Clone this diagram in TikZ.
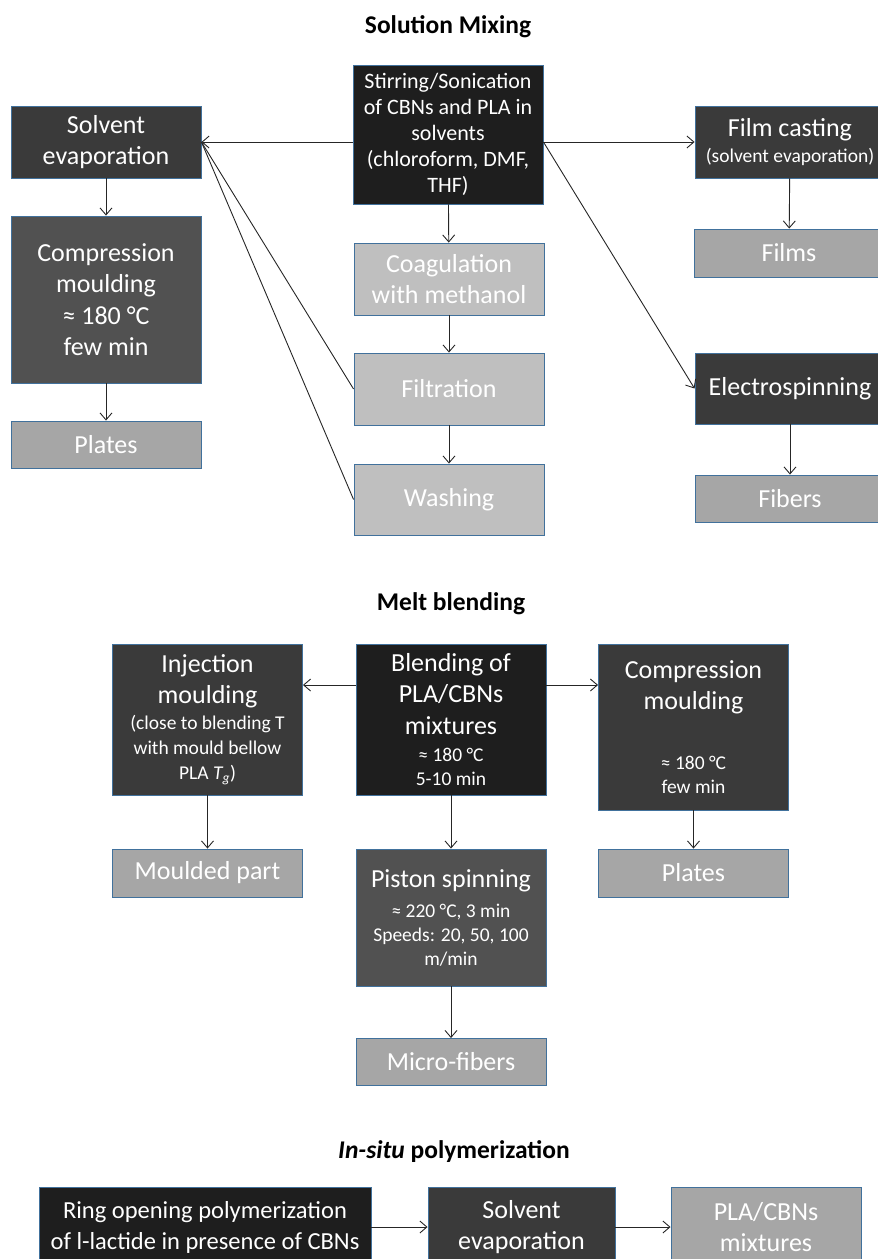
\documentclass[tikz,border=0pt]{standalone}
\usepackage{fontspec}
\setmainfont{Carlito}
\usepackage{tikz}
\usetikzlibrary{arrows.meta}

\definecolor{boxblack}{HTML}{1E1E1E}
\definecolor{boxdark}{HTML}{3A3A3A}
\definecolor{boxmid}{HTML}{515151}
\definecolor{boxgray}{HTML}{A6A6A6}
\definecolor{boxlight}{HTML}{BFBFBF}
\definecolor{boxedge}{HTML}{41719C}
\newcommand{\subtxt}{\fontsize{19.5}{23.5}\selectfont}

\begin{document}
\begin{tikzpicture}[x=1pt,y=-1pt,>={Straight Barb[length=7pt,width=12pt]},
  procbox/.style={rectangle,draw=boxedge,line width=0.9pt,text=white,inner sep=0pt,align=center,
    font=\fontsize{26}{31.5}\selectfont,minimum width=190pt},
  sectitle/.style={font=\fontsize{25.5}{30}\selectfont\bfseries,anchor=base},
  flow/.style={->,draw=black!85,line width=0.9pt}]
\useasboundingbox (0,0) rectangle (878,1259);

% Solution mixing
\node[sectitle] (titlemix) at (448,33) {Solution Mixing};
\node[procbox,fill=boxblack,minimum height=139pt,font=\fontsize{22}{26}\selectfont] (stir) at (448,134.5) {Stirring/Sonication\\of CBNs and PLA in\\solvents\\(chloroform, DMF,\\THF)};
\node[procbox,fill=boxdark,minimum height=72pt] (solv) at (106,142) {Solvent\\evaporation};
\node[procbox,fill=boxmid,minimum height=167pt] (comp) at (106,299.5) {Compression\\moulding\\≈ 180 °C\\few min};
\node[procbox,fill=boxgray,minimum height=47pt] (plates) at (106,444.5) {Plates};
\node[procbox,fill=boxlight,minimum height=72pt] (coag) at (449,279) {Coagulation\\with methanol};
\node[procbox,fill=boxlight,minimum height=72pt] (filt) at (449,389) {Filtration};
\node[procbox,fill=boxlight,minimum height=71pt] (wash) at (449,499.5) {Washing};
\node[procbox,fill=boxdark,minimum height=72pt] (film) at (790,142) {Film casting\\[-5.5pt]{\subtxt (solvent evaporation)}};
\node[procbox,fill=boxgray,minimum height=48pt] (films) at (789,253) {Films};
\node[procbox,fill=boxdark,minimum height=71pt] (elec) at (790,388.5) {Electrospinning};
\node[procbox,fill=boxgray,minimum height=47pt] (fibers) at (790,498.5) {Fibers};

\draw[flow] (stir.west |- solv.east) -- (solv.east);
\draw[draw=black!85,line width=0.9pt] (filt.west) -- (solv.east);
\draw[draw=black!85,line width=0.9pt] (wash.west) -- (solv.east);
\draw[flow] (stir.east |- film.west) -- (film.west);
\draw[flow] (stir.east |- film.west) -- (elec.west);
\draw[flow] (stir) -- (coag);
\draw[flow] (coag) -- (filt);
\draw[flow] (filt) -- (wash);
\draw[flow] (solv) -- (comp);
\draw[flow] (comp) -- (plates);
\draw[flow] (film) -- (films);
\draw[flow] (elec) -- (fibers);

% Melt blending
\node[sectitle] (titlemelt) at (451,610) {Melt blending};
\node[procbox,fill=boxblack,minimum height=151pt] (blend) at (451,719.5) {Blending of\\PLA/CBNs\\mixtures\\[-4pt]{\subtxt ≈ 180 °C}\\[-8pt]{\subtxt 5-10 min}};
\node[procbox,fill=boxdark,minimum height=151pt] (inj) at (207.5,719.5) {Injection\\moulding\\[-6pt]{\subtxt (close to blending T}\\[-6.5pt]{\subtxt with mould bellow}\\[-6.5pt]{\subtxt PLA \textit{T\textsubscript{g}})}};
\node[procbox,fill=boxdark,minimum height=166pt] (cmpm) at (693.5,727) {Compression\\moulding\\[28.5pt]{\subtxt ≈ 180 °C}\\[-7.5pt]{\subtxt few min}};
\node[procbox,fill=boxgray,minimum height=48pt] (mould) at (207.5,873) {Moulded part};
\node[procbox,fill=boxgray,minimum height=48pt] (plates2) at (693.5,873) {Plates};
\node[procbox,fill=boxmid,minimum height=137pt] (piston) at (451,917.5) {Piston spinning\\[-1.5pt]{\subtxt ≈ 220 °C, 3 min}\\[-7.5pt]{\subtxt Speeds: 20, 50, 100}\\[-7.5pt]{\subtxt m/min}};
\node[procbox,fill=boxgray,minimum height=47pt] (micro) at (451,1062) {Micro-fibers};

\draw[flow] ([yshift=34.5pt]blend.west) -- ([yshift=34.5pt]blend.west -| inj.east);
\draw[flow] ([yshift=34.5pt]blend.east) -- ([yshift=34.5pt]blend.east -| cmpm.west);
\draw[flow] (blend) -- (piston);
\draw[flow] (inj) -- (mould);
\draw[flow] (cmpm) -- (plates2);
\draw[flow] (piston) -- (micro);

% In-situ polymerization
\node[sectitle] (titlepoly) at (454,1158) {\textit{In-situ} polymerization};
\node[procbox,fill=boxblack,minimum height=80pt,minimum width=332pt,font=\fontsize{24.5}{31}\selectfont] (ring) at (205,1227) {Ring opening polymerization\\of l-lactide in presence of CBNs};
\node[procbox,fill=boxdark,minimum height=80pt,minimum width=187pt] (solv3) at (521.5,1227) {Solvent\\evaporation};
\node[procbox,fill=boxgray,minimum height=80pt] (pla) at (766,1227) {PLA/CBNs\\mixtures};

\draw[flow] (ring) -- (solv3);
\draw[flow] (solv3) -- (pla);
\end{tikzpicture}
\end{document}
